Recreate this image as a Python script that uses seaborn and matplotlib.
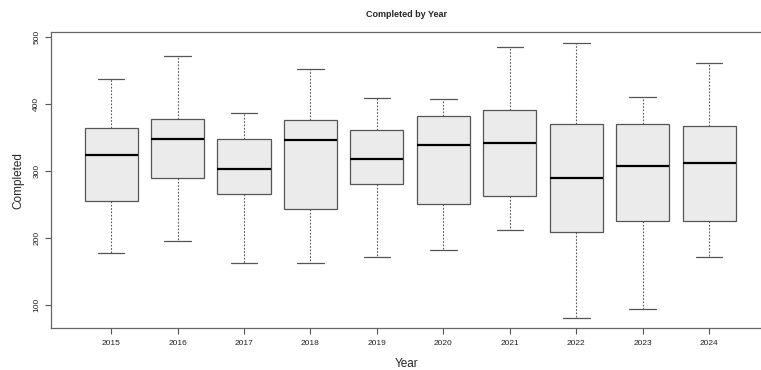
import matplotlib
matplotlib.use("Agg")
import matplotlib.pyplot as plt
import seaborn as sns
import pandas as pd

years = ["2015", "2016", "2017", "2018", "2019", "2020", "2021", "2022", "2023", "2024"]
lower_whisker = [177, 195, 163, 163, 171, 182, 212, 81, 94, 171]
q1 = [255, 289, 266, 243, 281, 251, 262, 209, 225, 225]
median = [324, 347, 302, 346, 318, 339, 342, 289, 307, 311]
q3 = [363, 377, 347, 375, 361, 381, 390, 370, 370, 367]
upper_whisker = [437, 471, 386, 452, 408, 407, 485, 490, 410, 460]

rows = []
for i, y in enumerate(years):
    for v in (lower_whisker[i], q1[i], median[i], q3[i], upper_whisker[i]):
        rows.append({"Year": y, "Completed": v})
df = pd.DataFrame(rows)

sns.set_style("white")
plt.rcParams["font.family"] = ["Liberation Sans", "DejaVu Sans"]

fig = plt.figure(figsize=(7.61, 3.70), dpi=100)
ax = fig.add_axes([0.0674, 0.1122, 0.9326, 0.8])

edge = "#555555"
sns.boxplot(
    data=df, x="Year", y="Completed", order=years, ax=ax,
    whis=(0, 100), width=0.8, color="#EBEBEB", saturation=1,
    linecolor=edge, linewidth=0.9,
    boxprops=dict(facecolor="#EBEBEB", edgecolor=edge, linewidth=0.9),
    medianprops=dict(color="black", linewidth=1.6),
    whiskerprops=dict(color=edge, linestyle=(0, (1.5, 1.5)), linewidth=0.8),
    capprops=dict(color=edge, linewidth=0.9),
    showfliers=False,
)

ax.set_xlim(-0.9, 9.78)
ax.set_ylim(65, 506)
ax.set_yticks([100, 200, 300, 400, 500])
for s in ["left", "bottom", "top"]:
    ax.spines[s].set_color("#666666")
    ax.spines[s].set_linewidth(0.9)
ax.spines["right"].set_visible(False)
ax.tick_params(axis="both", which="both", direction="out", length=4, width=0.8,
               color="#555555", labelcolor="#222222", labelsize=6, pad=4,
               bottom=True, left=True)
for lab in ax.get_yticklabels():
    lab.set_rotation(90)
    lab.set_va("center")

ax.set_xlabel("Year", fontsize=8.5, labelpad=8)
ax.set_ylabel("Completed", fontsize=8.5, labelpad=6)
ax.set_title("Completed by Year", fontsize=6.5, fontweight="bold", pad=11)

fig.savefig("out.png", dpi=100)
